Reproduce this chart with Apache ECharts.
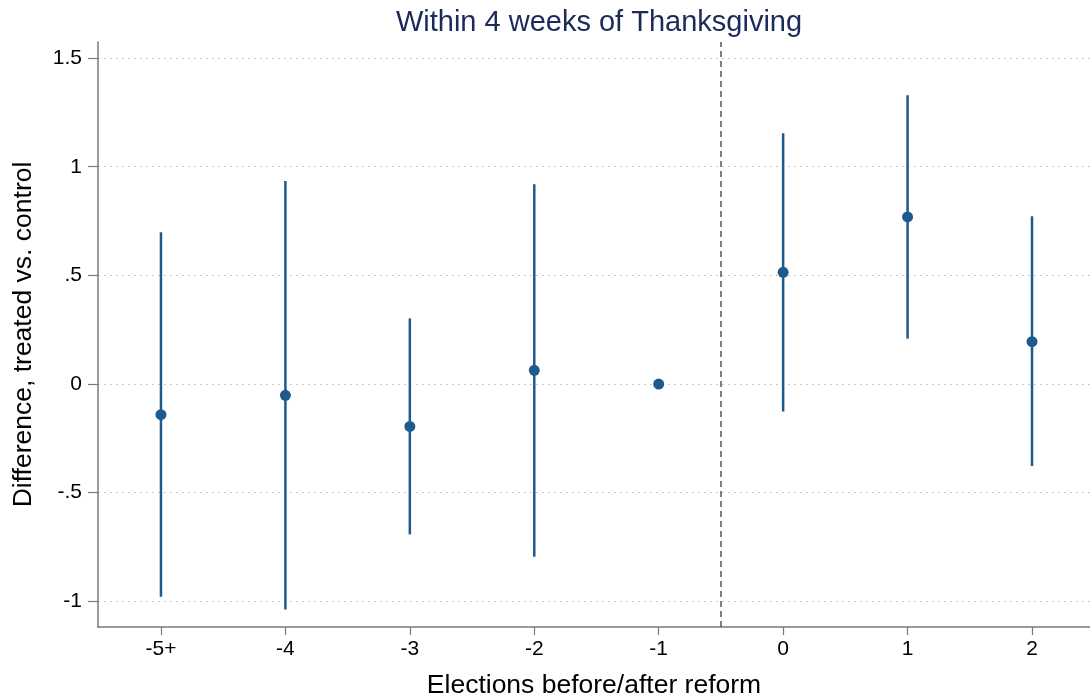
<!DOCTYPE html>
<html>
<head>
<meta charset="utf-8">
<script src="https://cdn.jsdelivr.net/npm/echarts@6/dist/echarts.min.js"></script>
<style>
html,body{margin:0;padding:0;background:#fff;}
#chart{width:1090px;height:700px;}
</style>
</head>
<body>
<div id="chart"></div>
<script>
const categories = ['-5+', '-4', '-3', '-2', '-1', '0', '1', '2'];
const estimates = [-0.141, -0.052, -0.195, 0.063, 0, 0.514, 0.769, 0.195];
const lowerCI  = [-0.979, -1.037, -0.692, -0.795, null, -0.126, 0.209, -0.377];
const upperCI  = [0.698, 0.934, 0.302, 0.919, null, 1.154, 1.329, 0.772];
const yTicks = [-1, -0.5, 0, 0.5, 1, 1.5];
const yTickLabels = ['-1', '-.5', '0', '.5', '1', '1.5'];
const reformLine = 4.5;

const FONT = '"Liberation Sans", Arial, sans-serif';
const COLOR = '#1f5a8e';

const ciData = categories.map((c, i) => [i, lowerCI[i], upperCI[i]]).filter(d => d[1] !== null);
const pointData = categories.map((c, i) => [i, estimates[i]]);

const chart = echarts.init(document.getElementById('chart'), null, {renderer: 'canvas'});
chart.setOption({
  animation: false,
  backgroundColor: '#fff',
  title: {
    text: 'Within 4 weeks of Thanksgiving',
    left: 594, top: 3, textAlign: 'center',
    textStyle: {fontFamily: FONT, fontSize: 29, fontWeight: 'normal', color: '#1a2b5a'}
  },
  grid: {left: 98, right: 0, top: 42, bottom: 73, containLabel: false, outerBoundsMode: 'none'},
  xAxis: {
    type: 'value', min: -0.506, max: 7.466,
    name: 'Elections before/after reform', nameLocation: 'middle', nameGap: 45,
    nameTextStyle: {fontFamily: FONT, fontSize: 26.5, color: '#000'},
    axisLine: {show: true, onZero: false, lineStyle: {color: '#7a7a7a', width: 1.5}},
    axisTick: {show: true, length: 8, lineStyle: {color: '#7a7a7a', width: 1.2}, customValues: categories.map((c, i) => i)},
    axisLabel: {
      customValues: categories.map((c, i) => i),
      formatter: v => categories[Math.round(v)],
      fontFamily: FONT, fontSize: 21, color: '#000', margin: 12
    },
    splitLine: {show: false}
  },
  yAxis: {
    type: 'value', min: -1.118, max: 1.574,
    name: 'Difference, treated vs. control', nameLocation: 'middle', nameGap: 61, nameRotate: 90,
    nameTextStyle: {fontFamily: FONT, fontSize: 26.5, color: '#000'},
    axisLine: {show: true, onZero: false, lineStyle: {color: '#7a7a7a', width: 1.5}},
    axisTick: {show: true, length: 10, lineStyle: {color: '#7a7a7a', width: 1.2}, customValues: yTicks},
    axisLabel: {
      customValues: yTicks,
      formatter: v => { const k = yTicks.findIndex(t => Math.abs(t - v) < 1e-6); return k >= 0 ? yTickLabels[k] : ''; },
      fontFamily: FONT, fontSize: 21, color: '#000', margin: 16
    },
    splitLine: {show: true, lineStyle: {color: '#b8b8b8', type: [1.5, 4.5], width: 1.2}}
  },
  series: [
    {
      type: 'custom',
      data: ciData,
      renderItem: function (params, api) {
        const x = api.value(0);
        const p1 = api.coord([x, api.value(1)]);
        const p2 = api.coord([x, api.value(2)]);
        return {type: 'line', shape: {x1: p1[0], y1: p1[1], x2: p2[0], y2: p2[1]},
                style: {stroke: COLOR, lineWidth: 2.5}};
      },
      z: 2
    },
    {
      type: 'scatter',
      data: pointData,
      symbol: 'circle', symbolSize: 11,
      itemStyle: {color: COLOR, opacity: 1},
      z: 3,
      markLine: {
        silent: true, symbol: 'none', label: {show: false},
        lineStyle: {color: '#555', type: [6, 4], width: 1.5},
        data: [{xAxis: reformLine}]
      }
    }
  ]
});
</script>
</body>
</html>
